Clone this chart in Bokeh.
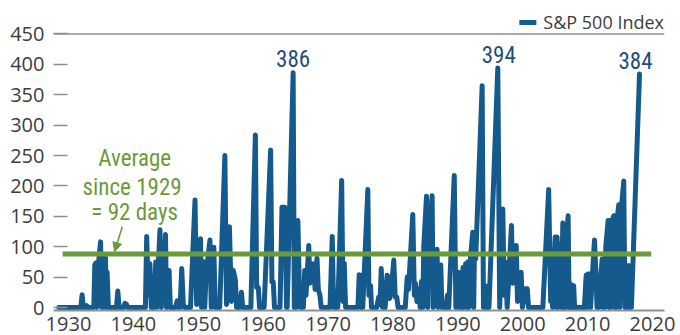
from bokeh.plotting import figure
from bokeh.models import Range1d, Span, Arrow, NormalHead, Legend, LegendItem, FixedTicker
from bokeh.embed import file_html
from bokeh.resources import INLINE
from bokeh.core.properties import value

# ---- data ----
years = [1928.5, 1931.9, 1932.1, 1932.3, 1932.6, 1932.8, 1933.0,
         1933.9, 1934.05, 1934.2, 1934.35, 1934.5, 1934.95, 1935.1, 1935.3, 1935.45, 1935.7,
         1935.85, 1935.95, 1936.15,
         1937.4, 1937.6, 1937.8, 1938.5, 1938.7, 1938.95, 1939.1,
         1941.85, 1942.05, 1942.3, 1942.55, 1942.75,
         1943.2, 1943.45, 1943.6, 1943.8, 1944.1, 1944.3, 1944.45, 1944.6, 1944.95, 1945.1,
         1945.3, 1945.5, 1945.7,
         1946.5, 1946.75, 1946.95, 1947.2, 1947.45, 1947.7, 1947.9,
         1948.8, 1949.5, 1949.75, 1950.35, 1950.5, 1950.7, 1950.85, 1951.0, 1951.2,
         1951.8, 1952.0, 1952.15, 1952.4, 1952.6,
         1953.3, 1954.1, 1954.35, 1954.8, 1955.1, 1955.4, 1955.73, 1955.9,
         1956.4, 1956.65, 1956.85,
         1958.1, 1958.8, 1959.0, 1959.25, 1959.45,
         1960.15, 1961.15, 1961.35, 1961.55, 1961.75,
         1962.6, 1962.9, 1963.35, 1963.6, 1963.7, 1964.62, 1964.8,
         1965.1, 1965.35, 1965.6, 1965.8,
         1966.2, 1966.4, 1966.6, 1967.03, 1967.2, 1967.35, 1967.75, 1968.0, 1968.3, 1968.5,
         1968.75, 1968.95,
         1970.3, 1970.65, 1970.85, 1971.5, 1972.1, 1972.3, 1972.5, 1972.7,
         1974.6, 1974.8, 1975.0, 1975.15, 1975.35, 1976.13, 1976.3, 1976.55, 1976.7,
         1977.5, 1977.8, 1978.0, 1978.2, 1978.4, 1978.8, 1979.1, 1979.3, 1979.5, 1979.75,
         1980.13, 1980.35, 1980.6, 1980.8,
         1981.9, 1982.2, 1982.4, 1983.06, 1983.3, 1983.48, 1983.7, 1984.0, 1984.2, 1984.4,
         1984.6, 1984.75, 1985.17, 1985.35, 1985.5, 1986.04, 1986.2, 1986.4, 1986.8, 1986.95,
         1987.1, 1987.37, 1987.55,
         1988.2, 1988.4, 1988.6, 1989.45, 1989.7,
         1990.1, 1990.25, 1990.45, 1990.6, 1990.8, 1990.95, 1991.2, 1991.35, 1991.54, 1991.7,
         1991.85, 1992.3, 1992.45, 1992.6, 1992.75, 1993.75, 1993.95, 1994.25, 1994.45,
         1994.8, 1996.16, 1996.45,
         1996.93, 1997.15, 1997.34, 1997.6, 1998.27, 1998.45, 1999.0, 1999.2, 1999.76, 1999.95,
         2000.4, 2000.7, 2000.9,
         2003.1, 2004.0, 2004.3, 2004.45, 2004.6, 2005.0, 2005.15, 2005.3, 2005.45, 2005.6,
         2005.8, 2005.95, 2006.18, 2006.3, 2006.55, 2006.65, 2006.8, 2007.0, 2007.15, 2007.35,
         2007.5, 2007.65, 2007.85, 2008.0,
         2009.5, 2009.78, 2009.9, 2010.05, 2010.3, 2010.45, 2011.06, 2011.3, 2011.45,
         2011.7, 2012.24, 2012.35, 2012.45, 2012.6, 2012.8, 2013.16, 2013.3, 2013.4, 2013.55,
         2013.7, 2014.03, 2014.15, 2014.3, 2014.45, 2014.6, 2014.8, 2014.95, 2015.1, 2015.57,
         2015.75, 2016.15, 2016.35, 2016.55, 2016.75, 2018.0]
days = [0, 0, 21, 0, 0, 3, 0,
        0, 70, 73, 0, 60, 108, 0, 50, 0, 82,
        0, 58, 0,
        0, 27, 0, 0, 7, 5, 0,
        0, 117, 20, 72, 0,
        0, 75, 0, 60, 128, 0, 75, 20, 120, 0,
        40, 61, 0,
        0, 11, 0, 0, 64, 5, 0,
        0, 177, 5, 113, 0, 70, 75, 0, 55,
        111, 0, 60, 99, 0,
        0, 250, 5, 133, 10, 61, 44, 0,
        0, 25, 0,
        0, 284, 33, 33, 0,
        0, 259, 42, 42, 0,
        0, 165, 165, 0, 0, 386, 0,
        0, 143, 20, 0,
        0, 61, 20, 102, 40, 50, 72, 30, 81, 30,
        20, 0,
        0, 117, 0, 0, 209, 10, 73, 0,
        0, 54, 0, 53, 0, 194, 20, 36, 0,
        0, 17, 5, 64, 0, 0, 53, 50, 15, 30,
        78, 17, 17, 0,
        0, 50, 30, 153, 20, 40, 10, 30, 0, 43,
        0, 100, 183, 0, 100, 184, 0, 60, 96, 0,
        60, 70, 0,
        0, 20, 0, 217, 0,
        58, 0, 55, 0, 66, 0, 72, 0, 75, 0,
        70, 124, 0, 124, 80, 365, 0, 36, 0,
        0, 394, 0,
        162, 20, 75, 0, 135, 40, 102, 10, 58, 0,
        31, 31, 0,
        0, 194, 10, 39, 0, 116, 0, 116, 0, 100,
        105, 0, 139, 0, 132, 0, 120, 151, 0, 39,
        0, 36, 36, 0,
        0, 53, 0, 55, 55, 0, 111, 53, 0,
        0, 80, 0, 72, 0, 100, 143, 0, 143, 0,
        140, 151, 0, 151, 0, 150, 169, 0, 150, 208,
        0, 0, 69, 0, 0, 384]

series_name = "S&P 500 Index"
avg_years = [1929.1, 2019.8]
avg_value = 88
avg_text = ["Average", "since 1929", "= 92 days"]
avg_text_x = [1940.2, 1939.8, 1940.2]
avg_text_y = [245, 198, 157]

peak_years = [1964.62, 1996.16, 2018.0]
peak_values = [386, 394, 384]
peak_labels = ["386", "394", "384"]

y_ticks = [0, 50, 100, 150, 200, 250, 300, 350, 400, 450]
x_ticks = [1930, 1940, 1950, 1960, 1970, 1980, 1990, 2000, 2010, 2020]

# ---- styling ----
BLUE = "#155a8c"
NAVY = "#1f4e7c"
GREEN = "#6b9a3c"
GRAY = "#8f8f8f"
TXT = "#3d3d3d"
COND = "Roboto Condensed"

p = figure(width=680, height=335, output_backend="svg", toolbar_location=None,
           x_range=Range1d(1927.69, 2021.85), y_range=Range1d(-4.9, 488.6),
           min_border_left=53, min_border_right=16, min_border_top=10, min_border_bottom=25)
p.outline_line_color = None
p.xgrid.grid_line_color = None
p.ygrid.grid_line_color = None
p.background_fill_color = "white"
p.border_fill_color = "white"

# top rule at 450
p.add_layout(Span(location=450, dimension="width", line_color=GRAY, line_width=1.6))

# series
r = p.line(years, days, line_color=BLUE, line_width=5, line_join="round", line_cap="round")

# average line
p.line(avg_years, [avg_value, avg_value], line_color=GREEN, line_width=5)

# average annotation
p.text(x=avg_text_x, y=avg_text_y, text=avg_text, text_font=value(COND),
       text_font_size="23px", text_color=GREEN, text_align="center", text_baseline="alphabetic")
p.add_layout(Arrow(end=NormalHead(size=9, fill_color=GREEN, line_color=GREEN, line_width=1),
                   x_start=1938.3, y_start=133, x_end=1937.1, y_end=92,
                   line_color=GREEN, line_width=1.6))

# peak labels
p.text(x=peak_years, y=peak_values, text=peak_labels, text_font=value(COND),
       text_font_size="23px", text_color=NAVY, text_align="center", text_baseline="alphabetic",
       y_offset=-14, x_offset=[0, 1, -4])

# axes
p.yaxis.ticker = FixedTicker(ticks=y_ticks)
p.yaxis.axis_line_color = None
p.yaxis.major_tick_in = 14
p.yaxis.major_tick_out = 0
p.yaxis.minor_tick_line_color = None
p.yaxis.major_tick_line_color = GRAY
p.yaxis.major_tick_line_width = 1.6
p.yaxis.major_label_standoff = 9
p.yaxis.major_label_text_font = "Open Sans"
p.yaxis.major_label_text_font_size = "20px"
p.yaxis.major_label_text_color = TXT

p.xaxis.ticker = FixedTicker(ticks=x_ticks)
p.xaxis.axis_line_color = GRAY
p.xaxis.axis_line_width = 2
p.xaxis.major_tick_line_color = None
p.xaxis.minor_tick_line_color = None
p.xaxis.major_tick_in = 0
p.xaxis.major_tick_out = 0
p.xaxis.major_label_standoff = 6
p.xaxis.major_label_text_font = "Open Sans"
p.xaxis.major_label_text_font_size = "20px"
p.xaxis.major_label_text_color = TXT

legend = Legend(items=[LegendItem(label=series_name, renderers=[r])], location="top_right",
                background_fill_alpha=0, border_line_color=None, padding=4, margin=0,
                label_text_font="Open Sans", label_text_font_size="18px", label_text_color=TXT,
                glyph_width=17, glyph_height=18, label_standoff=7, spacing=0, label_height=18)
p.add_layout(legend)

open("out.html", "w").write(file_html(p, INLINE))
